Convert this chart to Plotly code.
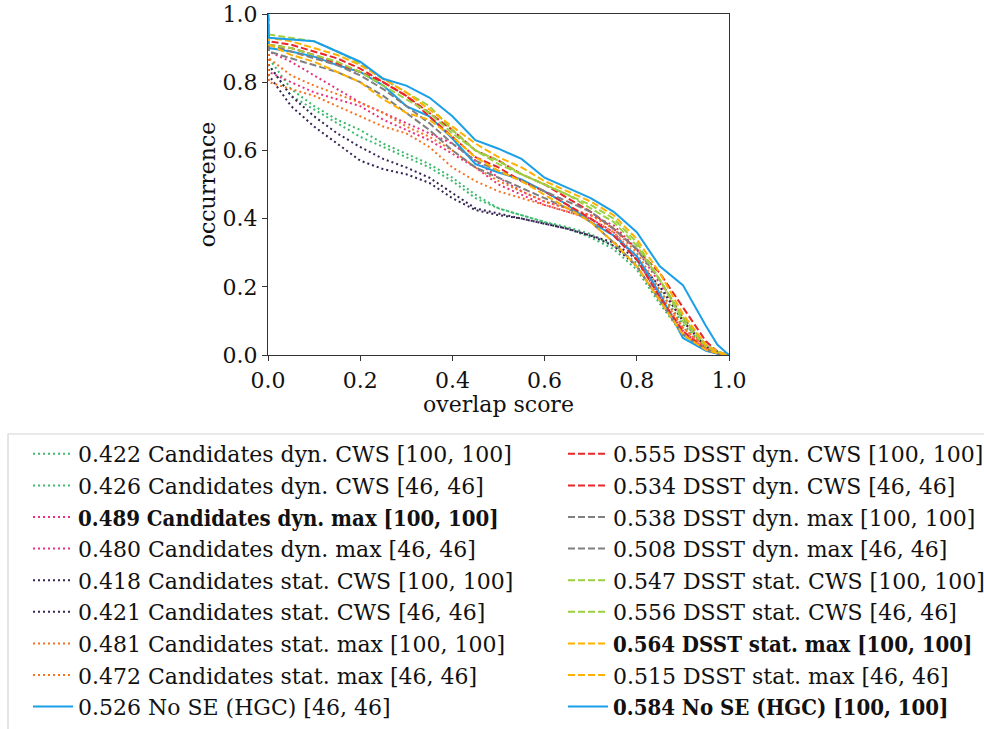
import plotly.graph_objects as go

# overlap thresholds
overlap = [0, 0.002, 0.05, 0.1, 0.15, 0.2, 0.25, 0.3, 0.35, 0.4, 0.45, 0.5,
           0.55, 0.6, 0.65, 0.7, 0.75, 0.8, 0.85, 0.9, 0.95, 0.975, 1.0]

BOLD = "<span style=\"font-family:'DejaVu Serif Condensed', 'DejaVu Serif'\"><b>%s</b></span>"

labels_left = [
    "0.422 Candidates dyn. CWS [100, 100]",
    "0.426 Candidates dyn. CWS [46, 46]",
    BOLD % "0.489 Candidates dyn. max [100, 100]",
    "0.480 Candidates dyn. max [46, 46]",
    "0.418 Candidates stat. CWS [100, 100]",
    "0.421 Candidates stat. CWS [46, 46]",
    "0.481 Candidates stat. max [100, 100]",
    "0.472 Candidates stat. max [46, 46]",
    "0.526 No SE (HGC) [46, 46]",
]
labels_right = [
    "0.555 DSST dyn. CWS [100, 100]",
    "0.534 DSST dyn. CWS [46, 46]",
    "0.538 DSST dyn. max [100, 100]",
    "0.508 DSST dyn. max [46, 46]",
    "0.547 DSST stat. CWS [100, 100]",
    "0.556 DSST stat. CWS [46, 46]",
    BOLD % "0.564 DSST stat. max [100, 100]",
    "0.515 DSST stat. max [46, 46]",
    BOLD % "0.584 No SE (HGC) [100, 100]",
]

cand_dyn_cws_100 = [1.0, 0.85, 0.76, 0.72, 0.68, 0.64, 0.61, 0.58, 0.55, 0.51, 0.46, 0.43, 0.41, 0.39, 0.37, 0.345, 0.31, 0.25, 0.15, 0.06, 0.015, 0.005, 0.0]
cand_dyn_cws_46 = [1.0, 0.87, 0.78, 0.73, 0.69, 0.66, 0.62, 0.59, 0.56, 0.52, 0.47, 0.43, 0.41, 0.39, 0.375, 0.355, 0.32, 0.27, 0.19, 0.09, 0.02, 0.005, 0.0]
cand_dyn_max_100 = [1.0, 0.89, 0.86, 0.82, 0.78, 0.74, 0.71, 0.68, 0.65, 0.62, 0.57, 0.52, 0.48, 0.45, 0.43, 0.41, 0.38, 0.31, 0.21, 0.10, 0.02, 0.005, 0.0]
cand_dyn_max_46 = [1.0, 0.83, 0.80, 0.77, 0.75, 0.73, 0.69, 0.66, 0.63, 0.59, 0.55, 0.50, 0.47, 0.44, 0.42, 0.40, 0.36, 0.28, 0.17, 0.07, 0.015, 0.005, 0.0]
cand_stat_cws_100 = [1.0, 0.82, 0.73, 0.67, 0.62, 0.57, 0.545, 0.53, 0.505, 0.46, 0.425, 0.41, 0.40, 0.385, 0.37, 0.35, 0.32, 0.26, 0.16, 0.06, 0.015, 0.005, 0.0]
cand_stat_cws_46 = [1.0, 0.85, 0.76, 0.70, 0.65, 0.61, 0.575, 0.55, 0.52, 0.475, 0.43, 0.415, 0.40, 0.385, 0.37, 0.35, 0.33, 0.28, 0.20, 0.10, 0.025, 0.008, 0.0]
cand_stat_max_100 = [1.0, 0.87, 0.82, 0.79, 0.765, 0.74, 0.71, 0.67, 0.64, 0.60, 0.55, 0.51, 0.48, 0.45, 0.43, 0.41, 0.37, 0.30, 0.19, 0.08, 0.02, 0.005, 0.0]
cand_stat_max_46 = [1.0, 0.80, 0.78, 0.76, 0.73, 0.70, 0.67, 0.65, 0.61, 0.55, 0.51, 0.48, 0.46, 0.44, 0.42, 0.40, 0.36, 0.29, 0.18, 0.08, 0.02, 0.005, 0.0]
nose_46 = [1.0, 0.90, 0.89, 0.875, 0.85, 0.83, 0.79, 0.73, 0.70, 0.635, 0.56, 0.535, 0.515, 0.48, 0.44, 0.39, 0.35, 0.29, 0.18, 0.05, 0.012, 0.004, 0.0]

dsst_dyn_cws_100 = [1.0, 0.92, 0.91, 0.89, 0.87, 0.84, 0.80, 0.76, 0.71, 0.66, 0.60, 0.57, 0.53, 0.50, 0.46, 0.42, 0.37, 0.31, 0.24, 0.14, 0.04, 0.01, 0.0]
dsst_dyn_cws_46 = [1.0, 0.91, 0.90, 0.88, 0.855, 0.83, 0.80, 0.76, 0.70, 0.64, 0.58, 0.55, 0.51, 0.48, 0.44, 0.40, 0.35, 0.28, 0.17, 0.07, 0.015, 0.005, 0.0]
dsst_dyn_max_100 = [1.0, 0.91, 0.89, 0.87, 0.85, 0.82, 0.78, 0.73, 0.68, 0.62, 0.57, 0.54, 0.51, 0.48, 0.45, 0.42, 0.37, 0.31, 0.22, 0.11, 0.03, 0.01, 0.0]
dsst_dyn_max_46 = [1.0, 0.89, 0.87, 0.85, 0.83, 0.80, 0.76, 0.71, 0.66, 0.60, 0.55, 0.52, 0.49, 0.46, 0.43, 0.39, 0.33, 0.26, 0.16, 0.06, 0.015, 0.005, 0.0]
dsst_stat_cws_100 = [1.0, 0.91, 0.90, 0.88, 0.86, 0.83, 0.79, 0.75, 0.71, 0.65, 0.60, 0.56, 0.53, 0.50, 0.47, 0.43, 0.39, 0.32, 0.22, 0.11, 0.03, 0.01, 0.0]
dsst_stat_cws_46 = [1.0, 0.94, 0.93, 0.92, 0.89, 0.855, 0.81, 0.77, 0.73, 0.66, 0.60, 0.57, 0.53, 0.50, 0.47, 0.44, 0.40, 0.33, 0.22, 0.10, 0.025, 0.008, 0.0]
dsst_stat_max_100 = [1.0, 0.93, 0.92, 0.90, 0.88, 0.85, 0.81, 0.77, 0.72, 0.67, 0.62, 0.58, 0.55, 0.51, 0.48, 0.45, 0.41, 0.34, 0.24, 0.12, 0.03, 0.01, 0.0]
dsst_stat_max_46 = [1.0, 0.91, 0.88, 0.86, 0.83, 0.80, 0.75, 0.71, 0.69, 0.64, 0.58, 0.54, 0.51, 0.47, 0.43, 0.39, 0.33, 0.26, 0.16, 0.06, 0.015, 0.005, 0.0]
nose_100 = [1.0, 0.93, 0.925, 0.92, 0.89, 0.86, 0.81, 0.79, 0.755, 0.70, 0.63, 0.605, 0.575, 0.52, 0.49, 0.46, 0.42, 0.36, 0.26, 0.205, 0.085, 0.03, 0.0]

values_left = [cand_dyn_cws_100, cand_dyn_cws_46, cand_dyn_max_100, cand_dyn_max_46,
               cand_stat_cws_100, cand_stat_cws_46, cand_stat_max_100, cand_stat_max_46, nose_46]
values_right = [dsst_dyn_cws_100, dsst_dyn_cws_46, dsst_dyn_max_100, dsst_dyn_max_46,
                dsst_stat_cws_100, dsst_stat_cws_46, dsst_stat_max_100, dsst_stat_max_46, nose_100]

GREEN, PINK, PURPLE, ORANGE, BLUE = "#3cba6d", "#e6307e", "#352453", "#f5731e", "#1a9fe8"
RED, GRAY, YGREEN, YORANGE = "#e8262b", "#808080", "#9bd03f", "#ffb000"
colors_left = [GREEN, GREEN, PINK, PINK, PURPLE, PURPLE, ORANGE, ORANGE, BLUE]
colors_right = [RED, RED, GRAY, GRAY, YGREEN, YGREEN, YORANGE, YORANGE, BLUE]
DOT = "2px,3px"
DASH = "7px,3px"
dash_left = [DOT] * 8 + ["solid"]
dash_right = [DASH] * 8 + ["solid"]

FONT = "DejaVu Serif"
fig = go.Figure()
for i, (lab, vals, c, d) in enumerate(zip(labels_left, values_left, colors_left, dash_left)):
    fig.add_trace(go.Scatter(x=overlap, y=vals, mode="lines", name=lab,
                             line=dict(color=c, dash=d, width=2),
                             legend="legend", legendgroup="L%d" % i))
for i, (lab, vals, c, d) in enumerate(zip(labels_right, values_right, colors_right, dash_right)):
    fig.add_trace(go.Scatter(x=overlap, y=vals, mode="lines", name=lab,
                             line=dict(color=c, dash=d, width=2),
                             legend="legend2", legendgroup="R%d" % i))

L, R, T, B = 268, 729, 14, 355
W, H = 984, 729
pw, ph = R - L, B - T

def px_x(p):
    return (p - L) / pw

def px_y(p):
    return (B - p) / ph

legend_common = dict(font=dict(family=FONT, size=22, color="#111111"),
                      bgcolor="rgba(0,0,0,0)", borderwidth=0,
                      xanchor="left", yanchor="top", tracegroupgap=0,
                      itemwidth=40, orientation="v")
axis_common = dict(range=[0, 1], dtick=0.2, tickformat=".1f", showgrid=False, zeroline=False,
                   showline=True, linecolor="#333333", linewidth=1.2, mirror=True,
                   ticks="outside", ticklen=5, tickcolor="#333333",
                   tickfont=dict(family=FONT, size=22, color="#111111"))

fig.update_layout(
    width=W, height=H,
    margin=dict(l=L, r=W - R, t=T, b=H - B, autoexpand=False),
    paper_bgcolor="white", plot_bgcolor="white",
    xaxis=dict(title=dict(text="overlap score", font=dict(family=FONT, size=22, color="#111111"), standoff=0), **axis_common),
    yaxis=dict(title=dict(text="occurrence", font=dict(family=FONT, size=22, color="#111111"), standoff=0), **axis_common),
    legend=dict(x=px_x(28), y=px_y(433), **legend_common),
    legend2=dict(x=px_x(563), y=px_y(433), **legend_common),
    shapes=[dict(type="rect", xref="paper", yref="paper",
                 x0=px_x(8), x1=px_x(995), y0=px_y(434), y1=px_y(740),
                 line=dict(color="#d4d4d4", width=1.2), layer="below")],
)

fig.write_html("out.html")
